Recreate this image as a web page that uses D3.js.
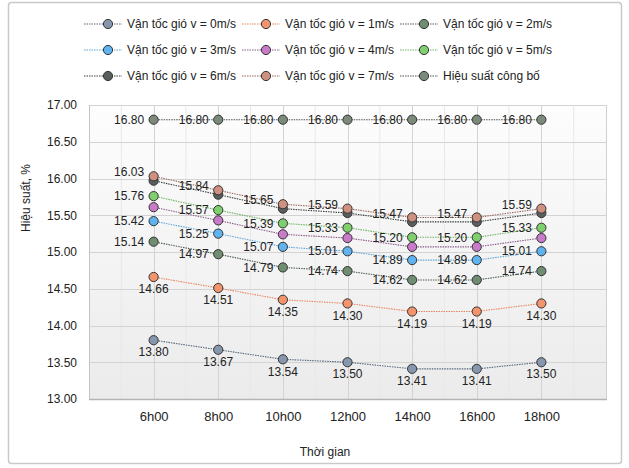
<!DOCTYPE html>
<html>
<head>
<meta charset="utf-8">
<script src="https://cdn.jsdelivr.net/npm/d3@7"></script>
<style>
  html, body { margin: 0; padding: 0; background: #ffffff; }
  svg { display: block; font-family: "Liberation Sans", Arial, Helvetica, sans-serif; }
</style>
</head>
<body>
<svg id="chart" width="629" height="468"></svg>
<script>
// Efficiency by time of day for several wind speeds
const categories = ["6h00", "8h00", "10h00", "12h00", "14h00", "16h00", "18h00"];
const yTicks = [13.0, 13.5, 14.0, 14.5, 15.0, 15.5, 16.0, 16.5, 17.0];

const seriesNames = [
  "Vận tốc gió v = 0m/s",
  "Vận tốc gió v = 1m/s",
  "Vận tốc gió v = 2m/s",
  "Vận tốc gió v = 3m/s",
  "Vận tốc gió v = 4m/s",
  "Vận tốc gió v = 5m/s",
  "Vận tốc gió v = 6m/s",
  "Vận tốc gió v = 7m/s",
  "Hiệu suất công bố"
];

const v0 = [13.80, 13.67, 13.54, 13.50, 13.41, 13.41, 13.50];
const v1 = [14.66, 14.51, 14.35, 14.30, 14.19, 14.19, 14.30];
const v2 = [15.14, 14.97, 14.79, 14.74, 14.62, 14.62, 14.74];
const v3 = [15.42, 15.25, 15.07, 15.01, 14.89, 14.89, 15.01];
const v4 = [15.61, 15.43, 15.24, 15.19, 15.07, 15.07, 15.19];
const v5 = [15.76, 15.57, 15.39, 15.33, 15.20, 15.20, 15.33];
const v6 = [15.97, 15.78, 15.59, 15.53, 15.41, 15.41, 15.53];
const v7 = [16.03, 15.84, 15.65, 15.59, 15.47, 15.47, 15.59];
const published = [16.80, 16.80, 16.80, 16.80, 16.80, 16.80, 16.80];

const seriesValues = [v0, v1, v2, v3, v4, v5, v6, v7, published];

// Styling per series: marker fill, line colour, and where value labels go
const seriesStyle = [
  { fill: "#8697ad", line: "#56677d", label: "below" },
  { fill: "#f4946d", line: "#e9865f", label: "below" },
  { fill: "#6f8d70", line: "#4f5f50", label: "left" },
  { fill: "#5fb4ef", line: "#5aa6d8", label: "left" },
  { fill: "#c97bc9", line: "#8c5a8c", label: null },
  { fill: "#80cf6f", line: "#6fb562", label: "left" },
  { fill: "#5b5e5e", line: "#3d3f3f", label: null },
  { fill: "#cf9080", line: "#9a6a5e", label: "leftHigh" },
  { fill: "#7b8a7b", line: "#4d564d", label: "left" }
];

const svg = d3.select("#chart");
const plot = { left: 89, right: 606, top: 105, bottom: 399 };

// Outer frame
svg.append("rect")
  .attr("x", 8.5).attr("y", 2.5)
  .attr("width", 613).attr("height", 461)
  .attr("rx", 3)
  .attr("fill", "#ffffff")
  .attr("stroke", "#c9c9c9")
  .attr("stroke-width", 1.5);

// Plot background gradient
const defs = svg.append("defs");
const grad = defs.append("linearGradient")
  .attr("id", "plotBg").attr("x1", 0).attr("y1", 0).attr("x2", 0).attr("y2", 1);
grad.append("stop").attr("offset", "0%").attr("stop-color", "#fdfdfd");
grad.append("stop").attr("offset", "100%").attr("stop-color", "#ebebeb");

svg.append("rect")
  .attr("x", plot.left).attr("y", plot.top)
  .attr("width", plot.right - plot.left).attr("height", plot.bottom - plot.top)
  .attr("fill", "url(#plotBg)");

const x = d3.scalePoint().domain(categories).range([plot.left, plot.right]).padding(1);
const y = d3.scaleLinear().domain([13, 17]).range([plot.bottom, plot.top]);

const grid = svg.append("g");

// Minor vertical grid between categories
const step = x.step();
const minorX = d3.range(categories.length + 1).map(i => plot.left + step * (i + 0.5));
grid.selectAll("line.minor").data(minorX.filter(v => v < plot.right - 1))
  .enter().append("line")
  .attr("x1", d => d).attr("x2", d => d)
  .attr("y1", plot.top).attr("y2", plot.bottom)
  .attr("stroke", "#e8e8e8").attr("stroke-width", 1);

// Major vertical grid at categories
grid.selectAll("line.vx").data(categories)
  .enter().append("line")
  .attr("x1", d => Math.round(x(d)) + 0.5).attr("x2", d => Math.round(x(d)) + 0.5)
  .attr("y1", plot.top).attr("y2", plot.bottom)
  .attr("stroke", "#d3d3d3").attr("stroke-width", 1);

// Horizontal grid
grid.selectAll("line.hy").data(yTicks)
  .enter().append("line")
  .attr("x1", plot.left).attr("x2", plot.right)
  .attr("y1", d => Math.round(y(d)) + 0.5).attr("y2", d => Math.round(y(d)) + 0.5)
  .attr("stroke", "#d3d3d3").attr("stroke-width", 1);

// Plot border
svg.append("line")
  .attr("x1", plot.right + 0.5).attr("x2", plot.right + 0.5)
  .attr("y1", plot.top).attr("y2", plot.bottom)
  .attr("stroke", "#d0d0d0");
svg.append("line")
  .attr("x1", plot.left + 0.5).attr("x2", plot.left + 0.5)
  .attr("y1", plot.top).attr("y2", plot.bottom)
  .attr("stroke", "#c4c4c4");
svg.append("line")
  .attr("x1", plot.left).attr("x2", plot.right + 1)
  .attr("y1", plot.bottom + 0.5).attr("y2", plot.bottom + 0.5)
  .attr("stroke", "#b4b4b4").attr("stroke-width", 1.5);

// Y axis labels
const yAxis = d3.axisLeft(y).tickValues(yTicks).tickFormat(d3.format(".2f")).tickSize(0).tickPadding(8);
const gy = svg.append("g").attr("transform", `translate(${plot.left - 4},0)`).call(yAxis);
gy.select(".domain").remove();
gy.selectAll("text").attr("font-size", 12).attr("fill", "#222").attr("font-family", "Liberation Sans, Arial, sans-serif");

// X axis labels
const xAxis = d3.axisBottom(x).tickSize(0).tickPadding(13);
const gx = svg.append("g").attr("transform", `translate(0,${plot.bottom})`).call(xAxis);
gx.select(".domain").remove();
gx.selectAll("text").attr("font-size", 13).attr("fill", "#222").attr("font-family", "Liberation Sans, Arial, sans-serif");

// Axis titles
svg.append("text")
  .attr("x", 325).attr("y", 456)
  .attr("text-anchor", "middle")
  .attr("font-size", 12).attr("fill", "#222")
  .text("Thời gian");

svg.append("text")
  .attr("transform", "translate(30,198) rotate(-90)")
  .attr("text-anchor", "middle")
  .attr("font-size", 12).attr("fill", "#222")
  .text("Hiệu suất, %");

// Series lines and markers
const line = d3.line().x((d, i) => x(categories[i])).y(d => y(d));
const seriesG = svg.append("g");

seriesValues.forEach((vals, s) => {
  const st = seriesStyle[s];
  seriesG.append("path")
    .datum(vals)
    .attr("d", line)
    .attr("fill", "none")
    .attr("stroke", st.line)
    .attr("stroke-width", 1.1)
    .attr("stroke-dasharray", "1.5,1");
});

seriesValues.forEach((vals, s) => {
  const st = seriesStyle[s];
  seriesG.append("g").selectAll("circle").data(vals)
    .enter().append("circle")
    .attr("cx", (d, i) => x(categories[i]))
    .attr("cy", d => y(d))
    .attr("r", 4.6)
    .attr("fill", st.fill)
    .attr("stroke", "#333")
    .attr("stroke-width", 1);
});

// Value labels
const labelG = svg.append("g").attr("font-size", 12).attr("fill", "#222");
seriesValues.forEach((vals, s) => {
  const st = seriesStyle[s];
  if (!st.label) return;
  labelG.append("g").selectAll("text").data(vals)
    .enter().append("text")
    .attr("x", (d, i) => st.label === "below" ? x(categories[i]) : x(categories[i]) - 9.5)
    .attr("y", d => {
      if (st.label === "below") return y(d) + 12;
      if (st.label === "leftHigh") return y(d) - 4;
      return y(d);
    })
    .attr("dy", "0.35em")
    .attr("text-anchor", st.label === "below" ? "middle" : "end")
    .text(d => d3.format(".2f")(d));
});

// Legend: three columns by three rows
const legendCols = [108, 266, 424];
const legendRows = [24, 50, 76];
const legend = svg.append("g").attr("font-size", 12).attr("fill", "#222");
seriesNames.forEach((name, s) => {
  const st = seriesStyle[s];
  const cx = legendCols[s % 3];
  const cy = legendRows[Math.floor(s / 3)];
  const g = legend.append("g");
  g.append("line")
    .attr("x1", cx - 24).attr("x2", cx + 14)
    .attr("y1", cy).attr("y2", cy)
    .attr("stroke", st.line).attr("stroke-width", 1.1)
    .attr("stroke-dasharray", "1.5,1");
  g.append("circle")
    .attr("cx", cx).attr("cy", cy).attr("r", 4.6)
    .attr("fill", st.fill).attr("stroke", "#333").attr("stroke-width", 1);
  g.append("text")
    .attr("x", cx + 19).attr("y", cy).attr("dy", "0.35em")
    .text(name);
});
</script>
</body>
</html>
